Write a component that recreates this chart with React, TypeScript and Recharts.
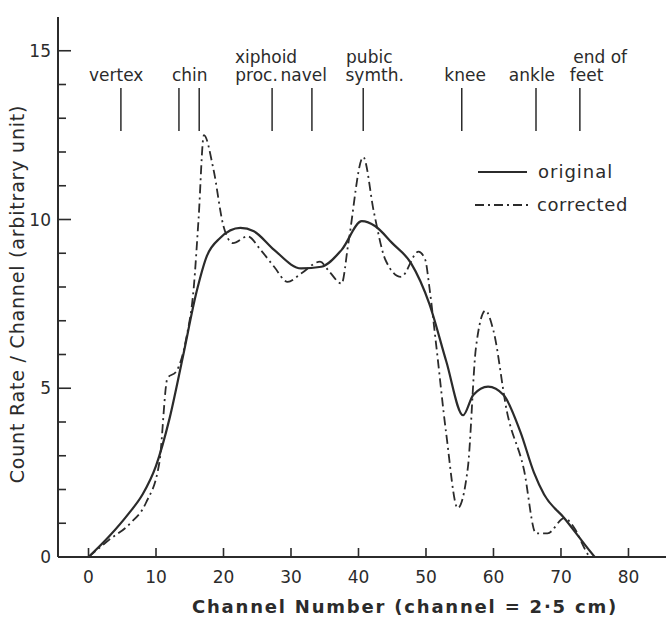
import React from "react";
import {
  ComposedChart,
  Line,
  Scatter,
  XAxis,
  YAxis,
  ReferenceLine,
  Legend,
} from "recharts";

const FONT = "'DejaVu Sans', sans-serif";
const INK = "#2b2b2b";

// channel numbers and count rates
const originalX = [0, 3, 6, 8, 10, 12, 14, 16, 17.5, 19.5, 22.5, 24.5, 27.5, 31.5, 34.5, 37.5, 40.5, 42.5, 45, 47.8, 50.5, 53, 55.5, 57, 59.2, 61.5, 64, 66, 67.5, 70.5, 74, 75];
const originalY = [0, 0.6, 1.3, 1.85, 2.7, 4.1, 5.95, 7.85, 8.9, 9.45, 9.75, 9.65, 9.1, 8.55, 8.6, 9.1, 9.95, 9.8, 9.3, 8.7, 7.5, 5.8, 4.2, 4.8, 5.05, 4.8, 3.7, 2.5, 1.85, 1.15, 0.25, 0];

const correctedX = [0, 3, 6.2, 8.5, 10.5, 11.7, 13, 14.5, 15.6, 16.3, 17.1, 18.5, 20, 21.4, 23.6, 25.5, 27.5, 29.5, 31.5, 34.3, 35.7, 37.5, 38.5, 40.7, 42.3, 44, 46.3, 48.9, 49.9, 50.5, 51.5, 53, 54.7, 56.2, 57.4, 58.8, 60, 62, 64.5, 66.3, 68, 70.5, 72, 73.5, 74.2];
const correctedY = [0, 0.5, 1.0, 1.6, 2.8, 5.3, 5.5, 6.5, 8.0, 10.0, 12.5, 11.5, 9.8, 9.3, 9.5, 9.1, 8.6, 8.15, 8.4, 8.75, 8.45, 8.1, 9.3, 11.85, 10.2, 8.8, 8.3, 9.05, 8.8, 8.0, 6.3, 3.65, 1.45, 2.64, 6.2, 7.3, 6.7, 4.3, 2.6, 0.7, 0.7, 1.15, 0.85, 0.25, 0];

// body landmarks along the channel axis
const landmarkChannels = [4.8, 13.4, 16.4, 27.2, 33.1, 40.7, 55.3, 66.3, 72.8];
const landmarkTop = 13.9;
const landmarkBottom = 12.62;

const landmarkText = ["vertex", "chin", "xiphoid", "proc.", "navel", "pubic", "symth.", "knee", "ankle", "end of", "feet"];
const landmarkTextX = [4.1, 15.0, 26.3, 24.9, 31.9, 41.6, 42.4, 55.8, 65.7, 75.8, 73.8];
const landmarkTextY = [14.1, 14.1, 14.64, 14.1, 14.1, 14.64, 14.1, 14.1, 14.1, 14.64, 14.1];

const xTicks = [0, 10, 20, 30, 40, 50, 60, 70, 80];
const yTicks = [0, 1, 2, 3, 4, 5, 6, 7, 8, 9, 10, 11, 12, 13, 14, 15];

const originalData = originalX.map((x, i) => ({ x, y: originalY[i] }));
const correctedData = correctedX.map((x, i) => ({ x, y: correctedY[i] }));
const labelData = landmarkText.map((text, i) => ({ x: landmarkTextX[i], y: landmarkTextY[i], text }));

const DASH_DOT = "9 4 2 4";

function XTick(props: any) {
  const { x, y, payload } = props;
  return (
    <g>
      <line x1={x} y1={y} x2={x} y2={y - 9} stroke={INK} strokeWidth={1.6} />
      <text x={x} y={y + 26} textAnchor="middle" fontSize={17} fontFamily={FONT} fill={INK}>
        {payload.value}
      </text>
    </g>
  );
}

function YTick(props: any) {
  const { x, y, payload } = props;
  const major = payload.value % 5 === 0;
  return (
    <g>
      <line x1={x} y1={y} x2={x + (major ? 13 : 8)} y2={y} stroke={INK} strokeWidth={1.6} />
      {major && (
        <text x={x - 7} y={y + 6} textAnchor="end" fontSize={17} fontFamily={FONT} fill={INK}>
          {payload.value}
        </text>
      )}
    </g>
  );
}

function LandmarkLabel(props: any) {
  const { cx, cy, payload } = props;
  return (
    <text x={cx} y={cy} textAnchor="middle" fontSize={17} fontFamily={FONT} fill={INK}>
      {payload.text}
    </text>
  );
}

function LegendBox() {
  return (
    <svg width={180} height={64}>
      <line x1={8} y1={17} x2={57} y2={17} stroke={INK} strokeWidth={2} />
      <text x={68} y={23} fontSize={18} letterSpacing={1} fontFamily={FONT} fill={INK}>original</text>
      <line x1={5} y1={50} x2={58} y2={50} stroke={INK} strokeWidth={2} strokeDasharray={DASH_DOT} />
      <text x={67} y={56} fontSize={18} letterSpacing={0.6} fontFamily={FONT} fill={INK}>corrected</text>
    </svg>
  );
}

export default function App() {
  return (
    <div style={{ position: "absolute", left: 0, top: 0, width: 666, height: 621, background: "#fff" }}>
      <ComposedChart width={666} height={621} margin={{ top: 17, right: 0, bottom: 0, left: 0 }}>
        <XAxis
          type="number"
          dataKey="x"
          domain={[-4.52, 85.56]}
          allowDataOverflow
          ticks={xTicks}
          interval={0}
          height={64}
          tickSize={0}
          tickMargin={0}
          tickLine={false}
          tick={<XTick />}
          axisLine={{ stroke: INK, strokeWidth: 2 }}
          label={{
            content: () => (
              <text
                x={405}
                y={613}
                textAnchor="middle"
                fontSize={18}
                fontWeight="bold"
                letterSpacing={1.8}
                fontFamily={FONT}
                fill={INK}
              >
                Channel Number (channel = 2·5 cm)
              </text>
            ),
          }}
        />
        <YAxis
          type="number"
          dataKey="y"
          domain={[0, 16]}
          allowDataOverflow
          ticks={yTicks}
          interval={0}
          width={58}
          tickSize={0}
          tickMargin={0}
          tickLine={false}
          tick={<YTick />}
          axisLine={{ stroke: INK, strokeWidth: 2 }}
          label={{
            content: () => (
              <text
                x={0}
                y={0}
                transform="translate(24 294) rotate(-90)"
                textAnchor="middle"
                fontSize={19}
                letterSpacing={0.8}
                fontFamily={FONT}
                fill={INK}
              >
                Count Rate / Channel (arbitrary unit)
              </text>
            ),
          }}
        />
        {landmarkChannels.map((c) => (
          <ReferenceLine
            key={c}
            segment={[
              { x: c, y: landmarkBottom },
              { x: c, y: landmarkTop },
            ]}
            stroke={INK}
            strokeWidth={1.5}
          />
        ))}
        <Scatter data={labelData} shape={<LandmarkLabel />} isAnimationActive={false} legendType="none" />
        <Line
          data={originalData}
          dataKey="y"
          type="monotone"
          stroke={INK}
          strokeWidth={2.2}
          dot={false}
          isAnimationActive={false}
        />
        <Line
          data={correctedData}
          dataKey="y"
          type="monotone"
          stroke={INK}
          strokeWidth={1.8}
          strokeDasharray={DASH_DOT}
          dot={false}
          isAnimationActive={false}
        />
        <Legend
          layout="vertical"
          align="center"
          verticalAlign="middle"
          content={<LegendBox />}
          wrapperStyle={{ left: 470, top: 155, width: 180 }}
        />
      </ComposedChart>
    </div>
  );
}
